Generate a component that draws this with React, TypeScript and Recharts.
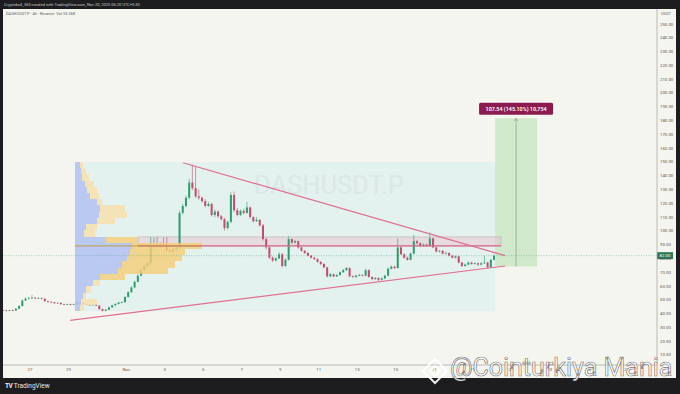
import React from 'react';
import {
  ComposedChart,
  Bar,
  XAxis,
  YAxis,
  ReferenceArea,
  ReferenceLine,
  ReferenceDot,
} from 'recharts';

const FONT = 'Roboto, "Noto Sans", sans-serif';
const UP = '#2f9e6e';
const DOWN = '#c24d6e';
const TREND = '#e0708f';

// x axis: days counted from Oct 26 00:00
const dateTicks = [1, 3, 6, 8, 10, 12, 14, 16, 18, 20, 22, 24, 26, 28, 30, 32];
const dateLabels = ['27', '29', 'Nov', '3', '5', '7', '9', '11', '13', '15', '17', '19', '21', '23', '25', '27'];
const priceTicks = [10, 20, 30, 40, 50, 60, 70, 80, 90, 100, 110, 120, 130, 140, 150, 160, 170, 180, 190, 200, 210, 220, 230, 240, 250];

// 4h candles as [high, low, close]; open is the previous close
const firstCandleT = -0.5;
const firstOpen = 42.5;
const candles4h: number[][][] = [
  [[42.9, 41.9, 42.3], [42.7, 41.6, 42.0], [42.8, 41.7, 42.4]], // Oct 25 (last 3)
  [[42.8, 41.8, 42.2], [44.0, 41.9, 43.5], [46.2, 43.2, 45.5], [50.2, 45.0, 49.5], [51.6, 49.0, 50.8], [52.0, 50.3, 51.2]], // Oct 26
  [[53.4, 50.8, 51.5], [52.0, 50.6, 51.0], [51.8, 50.6, 51.3], [51.7, 50.3, 50.8], [51.0, 48.6, 49.0], [49.4, 48.0, 48.5]], // Oct 27
  [[48.9, 47.9, 48.2], [48.4, 47.1, 47.5], [48.2, 47.2, 47.8], [48.0, 46.4, 46.8], [47.1, 46.0, 46.5], [47.3, 46.1, 46.9]], // Oct 28
  [[47.1, 45.9, 46.3], [47.2, 46.0, 46.8], [48.8, 46.5, 48.2], [48.5, 47.2, 47.6], [47.8, 46.4, 46.8], [47.1, 46.1, 46.5]], // Oct 29
  [[46.9, 45.8, 46.2], [47.0, 45.9, 46.6], [46.8, 45.4, 45.8], [46.0, 42.8, 43.2], [43.6, 41.5, 42.0], [43.3, 41.7, 42.8]], // Oct 30
  [[45.0, 42.5, 44.5], [46.4, 44.1, 46.0], [47.5, 45.6, 47.0], [48.5, 46.6, 48.0], [48.8, 47.5, 48.2], [52.6, 47.9, 52.0]], // Oct 31
  [[56.2, 51.6, 55.5], [59.8, 55.0, 59.0], [63.8, 58.5, 63.0], [68.3, 62.6, 67.5], [72.3, 67.0, 71.5], [75.5, 71.0, 74.5]], // Nov 1
  [[77.5, 73.8, 76.5], [95.5, 75.5, 89.5], [95.0, 87.0, 88.5], [95.8, 87.8, 90.0], [91.5, 87.5, 89.0], [95.2, 88.0, 90.2]], // Nov 2
  [[95.5, 85.2, 86.0], [87.0, 84.0, 85.0], [87.5, 84.3, 86.5], [88.6, 85.5, 87.5], [114.5, 87.0, 113.0], [119.5, 112.0, 118.0]], // Nov 3
  [[125.5, 117.0, 124.0], [137.5, 123.0, 135.0], [148.0, 129.5, 131.0], [147.0, 124.0, 125.0], [130.0, 122.5, 124.0], [125.0, 120.5, 121.5]], // Nov 4
  [[123.0, 117.0, 118.0], [121.0, 117.5, 119.5], [120.5, 110.5, 111.5], [115.5, 110.0, 114.0], [114.8, 109.5, 110.5], [111.5, 107.5, 108.5]], // Nov 5
  [[109.5, 100.2, 102.0], [107.5, 101.0, 106.5], [128.0, 105.5, 126.0], [128.5, 113.5, 115.0], [116.5, 110.5, 111.5], [115.5, 110.8, 114.5]], // Nov 6
  [[116.0, 112.0, 113.0], [121.0, 112.5, 117.0], [117.5, 109.0, 110.0], [110.5, 106.0, 107.0], [110.0, 106.5, 108.0], [108.5, 103.0, 104.0]], // Nov 7
  [[105.0, 93.0, 94.0], [95.0, 86.5, 88.0], [88.5, 79.5, 80.5], [81.5, 77.5, 78.5], [81.0, 77.8, 80.0], [84.5, 79.5, 83.0]], // Nov 8
  [[84.0, 73.5, 74.5], [80.0, 74.0, 79.0], [96.0, 78.5, 94.0], [94.5, 90.5, 91.5], [93.5, 90.8, 92.5], [93.0, 87.0, 88.0]], // Nov 9
  [[88.5, 85.0, 85.5], [86.2, 83.2, 84.0], [84.5, 81.5, 82.0], [82.5, 80.0, 80.5], [81.2, 78.9, 79.5], [80.0, 77.0, 77.5]], // Nov 10
  [[78.2, 75.2, 76.0], [76.5, 73.0, 73.5], [74.0, 66.2, 67.0], [69.5, 66.5, 68.5], [69.0, 66.4, 67.0], [68.8, 66.6, 68.0]], // Nov 11
  [[70.6, 67.5, 70.0], [72.3, 69.5, 71.5], [73.8, 71.0, 73.0], [73.5, 66.5, 67.0], [67.8, 65.8, 66.5], [68.2, 66.0, 67.5]], // Nov 12
  [[68.8, 67.0, 68.0], [68.5, 67.0, 67.5], [72.5, 67.0, 71.5], [72.0, 66.0, 66.5], [67.0, 64.2, 65.0], [66.5, 64.5, 65.8]], // Nov 13
  [[66.3, 63.5, 64.5], [66.2, 64.0, 65.5], [68.2, 65.0, 67.5], [73.5, 67.0, 72.5], [75.0, 72.0, 74.0], [74.8, 72.3, 73.0]], // Nov 14
  [[94.5, 72.5, 88.0], [89.0, 82.5, 83.0], [83.8, 79.8, 80.5], [81.5, 78.4, 79.0], [84.3, 78.6, 83.5], [97.0, 83.0, 92.5]], // Nov 15
  [[93.5, 90.2, 91.0], [91.8, 88.3, 89.0], [90.8, 88.5, 90.0], [90.6, 88.4, 89.0], [99.0, 88.5, 94.5], [95.0, 87.5, 88.0]], // Nov 16
  [[88.4, 84.4, 85.0], [86.2, 84.5, 85.5], [86.0, 83.0, 83.5], [84.8, 83.0, 84.0], [84.5, 81.5, 82.0], [82.6, 80.0, 80.5]], // Nov 17
  [[82.2, 80.0, 81.5], [82.0, 76.5, 77.0], [77.5, 73.8, 74.5], [76.3, 74.0, 75.5], [77.8, 75.0, 77.0], [77.6, 75.4, 76.0]], // Nov 18
  [[77.2, 75.5, 76.5], [77.0, 74.8, 75.5], [77.2, 75.0, 76.5], [82.0, 76.0, 77.0], [77.5, 73.0, 73.5], [79.6, 73.2, 79.0]], // Nov 19
  [[82.8, 78.6, 82.0]], // Nov 20
];

// visible range volume profile, rows bottom -> top
const vpLow = 41.7;
const vpHigh = 150;
const vpStartT = 3.34;
const vpEndT = 25.16;
const vpBuy = [5, 6, 8, 11, 18, 25, 43, 47, 52, 55, 57, 31, 9, 11, 22, 24, 25, 22, 15, 12, 10, 7, 6, 5];
const vpSell = [4, 16, 3, 5, 7, 25, 50, 53, 55, 55, 70, 32, 11, 11, 18, 28, 25, 5, 9, 10, 9, 7, 5, 3];
const valueArea = [5, 11];
const pocRow = 10;
const daysPerVolUnit = 1 / 19.25;

// drawings
const zone = { t1: 6.61, t2: 25.47, low: 89.1, high: 95.6 };
const upperTrend = [{ x: 8.95, y: 149.4 }, { x: 25.68, y: 82.0 }];
const lowerTrend = [{ x: 3.08, y: 35.0 }, { x: 25.68, y: 74.5 }];
const longPos = { t1: 25.16, t2: 27.34, entry: 74.11, target: 181.65 };
const targetLabel = '107.54 (145.10%) 10,754';

const chartData: any[] = [];
{
  let prev = firstOpen;
  let k = 0;
  candles4h.forEach((day) =>
    day.forEach(([h, l, c]) => {
      chartData.push({ t: firstCandleT + k / 6 + 1 / 12, o: prev, h, l, c, range: [l, h] });
      prev = c;
      k++;
    })
  );
}
const last = chartData[chartData.length - 1];

function Candle(props: any) {
  const { x, y, width, height, payload } = props;
  if (!payload) return null;
  const { o, h, l, c } = payload;
  const top = Math.min(y, y + height);
  const full = Math.abs(height);
  const ppu = h > l ? full / (h - l) : 0;
  const bTop = top + (h - Math.max(o, c)) * ppu;
  const bBot = top + (h - Math.min(o, c)) * ppu;
  const color = c >= o ? UP : DOWN;
  const cx = x + width / 2;
  return (
    <g>
      <line x1={cx} x2={cx} y1={top} y2={top + full} stroke={color} strokeWidth={0.6} />
      <rect x={x} y={bTop} width={width} height={Math.max(bBot - bTop, 0.7)} fill={color} />
    </g>
  );
}

function TargetTag(props: any) {
  const { cx, cy } = props;
  return (
    <g>
      <path d={`M${cx - 1.8},${cy + 2.6} L${cx},${cy + 0.4} L${cx + 1.8},${cy + 2.6}`} stroke="#8a8a8a" strokeWidth={0.6} fill="none" />
      <rect x={cx - 37} y={cy - 15.5} width={74} height={12} rx={1.5} fill="#8c1c4f" />
      <text x={cx} y={cy - 9.3} textAnchor="middle" dominantBaseline="central" fontSize={5.4} fontWeight={600} fill="#ffffff" fontFamily={FONT}>
        {targetLabel}
      </text>
    </g>
  );
}

function PriceTag({ viewBox }: any) {
  if (!viewBox) return null;
  const x = viewBox.x + viewBox.width;
  const y = viewBox.y;
  return (
    <g>
      <rect x={x} y={y - 3.5} width={16} height={7} fill="#2b7a55" />
      <text x={x + 8} y={y + 0.2} textAnchor="middle" dominantBaseline="central" fontSize={4.3} fill="#ffffff" fontFamily={FONT}>
        {last.c.toFixed(2)}
      </text>
    </g>
  );
}

export default function App() {
  const rowH = (vpHigh - vpLow) / vpBuy.length;
  const tickStyle = { fill: '#555', fontSize: 4.3, fontFamily: FONT };

  return (
    <div style={{ position: 'fixed', left: 0, top: 0, width: 680, height: 394, background: '#1d1d1f', overflow: 'hidden', fontFamily: FONT }}>
      <div style={{ position: 'absolute', left: 4, top: 1.5, fontSize: 4, color: '#c8c8c8', whiteSpace: 'nowrap', lineHeight: '5px' }}>
        Cryptobull_360 created with TradingView.com, Nov 20, 2025 06:20 UTC+5:30
      </div>
      <div style={{ position: 'absolute', left: 3, top: 9, width: 673, height: 369, background: '#f5f5f0' }} />
      <div style={{ position: 'absolute', left: 254, top: 169, fontSize: 25.5, color: '#e2e2dd', whiteSpace: 'nowrap', lineHeight: '32px' }}>
        DASHUSDT.P
      </div>
      <div style={{ position: 'absolute', left: 0, top: 0 }}>
        <ComposedChart width={680} height={394} data={chartData} margin={{ top: 9, right: 4, bottom: 16, left: 3 }}>
          <XAxis
            dataKey="t"
            type="number"
            domain={[-0.4, 33.57]}
            allowDataOverflow
            ticks={dateTicks}
            tickFormatter={(v: number) => dateLabels[dateTicks.indexOf(v)] ?? ''}
            tick={tickStyle}
            tickLine={false}
            tickSize={0}
            tickMargin={3}
            axisLine={{ stroke: '#a8a8a8', strokeWidth: 0.8 }}
            height={13}
            interval={0}
          />
          <YAxis
            orientation="right"
            type="number"
            domain={[2.7, 260.9]}
            allowDataOverflow
            ticks={priceTicks}
            tickFormatter={(v: number) => v.toFixed(2)}
            tick={tickStyle}
            tickLine={false}
            tickSize={0}
            tickMargin={3}
            axisLine={{ stroke: '#a8a8a8', strokeWidth: 0.8 }}
            width={19}
            interval={0}
          />
          {/* profile range box */}
          <ReferenceArea x1={vpStartT} x2={vpEndT} y1={vpLow} y2={vpHigh} fill="#d3ecee" fillOpacity={0.55} stroke="none" />
          {/* long position */}
          <ReferenceArea x1={longPos.t1} x2={longPos.t2} y1={longPos.entry} y2={longPos.target} fill="#cde8c8" fillOpacity={0.95} stroke="none" />
          {/* resistance zone */}
          <ReferenceArea x1={zone.t1} x2={zone.t2} y1={zone.low} y2={zone.high} fill="#eab3c2" fillOpacity={0.35} stroke="#b9adb0" strokeWidth={0.6} />
          <Bar dataKey="range" barSize={2} shape={Candle} isAnimationActive={false} />
          {/* volume profile rows */}
          {vpBuy.map((b, i) => {
            const inVA = i >= valueArea[0] && i <= valueArea[1];
            const y1 = vpLow + i * rowH;
            const xb = vpStartT + b * daysPerVolUnit;
            const xs = xb + vpSell[i] * daysPerVolUnit;
            return (
              <React.Fragment key={'vp' + i}>
                <ReferenceArea x1={vpStartT} x2={xb} y1={y1} y2={y1 + rowH} fill="#b2c2f2" fillOpacity={0.85} stroke="none" shapeRendering="crispEdges" zIndex={350} />
                <ReferenceArea x1={xb} x2={xs} y1={y1} y2={y1 + rowH} fill={inVA ? '#f4cd78' : '#f6dfaa'} fillOpacity={0.82} stroke="none" shapeRendering="crispEdges" zIndex={350} />
              </React.Fragment>
            );
          })}
          <ReferenceLine
            segment={[{ x: zone.t1, y: zone.low }, { x: zone.t2, y: zone.low }]}
            stroke="#d9668a"
            strokeWidth={1.1}
          />
          <ReferenceLine
            segment={[
              { x: vpStartT, y: vpLow + (pocRow + 0.5) * rowH },
              { x: vpStartT + (vpBuy[pocRow] + vpSell[pocRow]) * daysPerVolUnit, y: vpLow + (pocRow + 0.5) * rowH },
            ]}
            stroke="#c49a45"
            strokeWidth={1}
          />
          <ReferenceLine segment={upperTrend} stroke={TREND} strokeWidth={1.2} />
          <ReferenceLine segment={lowerTrend} stroke={TREND} strokeWidth={1.2} />
          <ReferenceLine
            segment={[
              { x: (longPos.t1 + longPos.t2) / 2, y: longPos.entry },
              { x: (longPos.t1 + longPos.t2) / 2, y: longPos.target },
            ]}
            stroke="#8a8a8a"
            strokeWidth={0.6}
          />
          <ReferenceLine
            y={last.c}
            stroke={UP}
            strokeOpacity={0.6}
            strokeWidth={0.7}
            strokeDasharray="1 1.5"
            label={(p: any) => <PriceTag viewBox={p.viewBox} />}
          />
          <ReferenceDot x={(longPos.t1 + longPos.t2) / 2} y={longPos.target} r={0} shape={TargetTag} />
        </ComposedChart>
      </div>
      <div style={{ position: 'absolute', left: 6, top: 11, fontSize: 4, color: '#666', whiteSpace: 'nowrap', lineHeight: '5px' }}>
        DASHUSDT.P · 4h · Binance&nbsp;&nbsp;Vol 55.36K
      </div>
      <div style={{ position: 'absolute', left: 661, top: 11, fontSize: 4, color: '#666', lineHeight: '5px' }}>USDT</div>
      <div style={{ position: 'absolute', left: 5, top: 382, fontSize: 6.5, color: '#e8e8e8', whiteSpace: 'nowrap', lineHeight: '8px' }}>
        <b style={{ letterSpacing: -0.5 }}>TV</b> TradingView
      </div>
      {/* channel watermark */}
      <svg style={{ position: 'absolute', left: 420, top: 356 }} width={30} height={32}>
        <g fill="none" stroke="rgba(255,255,255,0.9)" strokeWidth={2}>
          <path d="M15,3 L27,15 L15,27 L3,15 Z" />
          <path d="M15,10 L20,15 L15,20 L10,15 Z" />
        </g>
      </svg>
      <div
        style={{
          position: 'absolute',
          left: 450,
          top: 352,
          fontSize: 25,
          color: 'rgba(255,255,255,0.92)',
          WebkitTextStroke: '0.7px rgba(80,80,80,0.75)',
          whiteSpace: 'nowrap',
          lineHeight: '32px',
        }}
      >
        @Cointurkiya Mania
      </div>
    </div>
  );
}
